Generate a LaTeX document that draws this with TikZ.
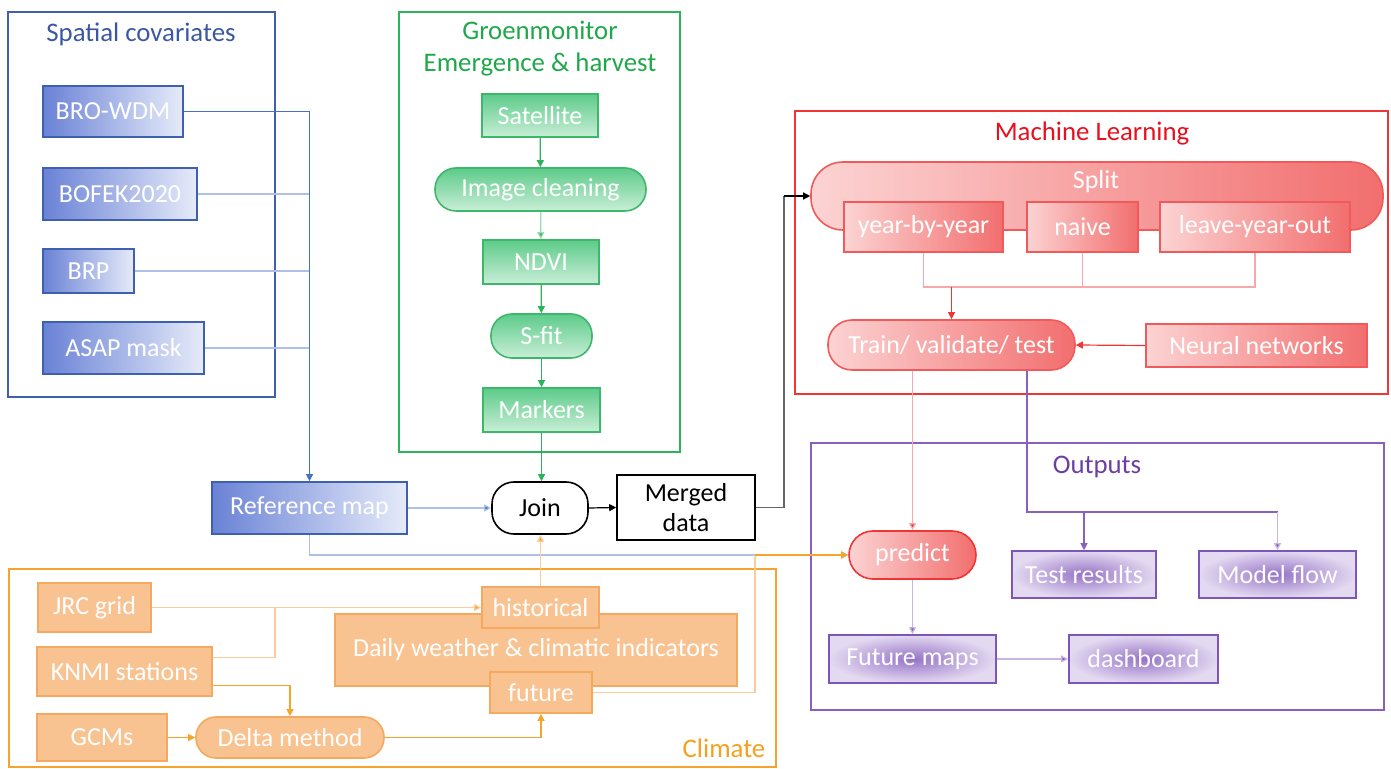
\documentclass[tikz,border=0pt]{standalone}
\usepackage{fontspec}
\setmainfont{Carlito}
\usetikzlibrary{arrows.meta,calc}
\definecolor{bdark}{HTML}{3F5FAF}
\definecolor{btitle}{HTML}{3A58A2}
\definecolor{bline}{HTML}{4472C4}
\definecolor{blight}{HTML}{AFC0E6}
\definecolor{bfillL}{HTML}{6A82D6}
\definecolor{bfillR}{HTML}{E6EBF9}
\definecolor{gframe}{HTML}{2DB35A}
\definecolor{gtitle}{HTML}{1FA84A}
\definecolor{gborder}{HTML}{3DB86A}
\definecolor{gtop}{HTML}{5DCB8A}
\definecolor{gbot}{HTML}{C9EED7}
\definecolor{rframe}{HTML}{F03535}
\definecolor{rtitle}{HTML}{E8101E}
\definecolor{rborder}{HTML}{F05A5A}
\definecolor{rL}{HTML}{FCD3D3}
\definecolor{rR}{HTML}{F26E6E}
\definecolor{rlight}{HTML}{F8A8A8}
\definecolor{oframe}{HTML}{F6A52C}
\definecolor{otitle}{HTML}{F5A01E}
\definecolor{oborder}{HTML}{F5A860}
\definecolor{ofill}{HTML}{F9C291}
\definecolor{olight}{HTML}{FBCB9A}
\definecolor{pframe}{HTML}{8A5FBE}
\definecolor{ptitle}{HTML}{6A3EA3}
\definecolor{pborder}{HTML}{7D57B7}
\definecolor{pin}{HTML}{9673C6}
\definecolor{pout}{HTML}{E3D9F1}
\definecolor{plight}{HTML}{C8B5E3}
\tikzset{
  every node/.style={font=\fontsize{13}{15}\selectfont, inner sep=0pt},
  frame/.style={draw, line width=0.8pt},
  ttl/.style={font=\fontsize{13.4}{16}\selectfont, align=center},
  bluebox/.style={draw=bdark, line width=0.8pt, left color=bfillL, right color=bfillR, text=white},
  greenbox/.style={draw=gborder, line width=0.8pt, top color=gtop, bottom color=gbot, text=white},
  redbox/.style={draw=rborder, line width=0.8pt, left color=rL, right color=rR, text=white},
  orangebox/.style={draw=oborder, line width=0.8pt, fill=ofill, text=white},
  purplebox/.style={draw=pborder, line width=0.8pt, inner color=pin, outer color=pout, text=white},
  tip/.style={-{Triangle[length=3.5pt,width=3.5pt]}},
  conn/.style={line width=0.6pt},
}
\newcommand\bx[7]{\node[#2, minimum width={(#5-#3)*0.5pt}, minimum height={(#6-#4)*0.5pt}] (#1) at ({(#3+#5)/2},{(#4+#6)/2}) {#7};}
\begin{document}
\begin{tikzpicture}[x=0.5pt,y=-0.5pt]
\useasboundingbox (0,0) rectangle (1391,769);
% frames
\draw[frame, bdark] (8,12) rectangle (275,397);
\node[ttl, text=btitle] (svt) at (141,34) {Spatial covariates};
\draw[frame, gframe] (399,12) rectangle (680,452);
\node[ttl, text=gtitle] (gmt) at (540,49) {Groenmonitor\\Emergence \& harvest};
\draw[frame, rframe] (795,111) rectangle (1388,394);
\node[ttl, text=rtitle] (mlt) at (1092,134) {Machine Learning};
\draw[frame, pframe] (811,443) rectangle (1384,710);
\node[ttl, text=ptitle] (opt) at (1097,467) {Outputs};
\draw[frame, oframe] (9,569) rectangle (776,767);
\node[ttl, text=otitle] (clt) at (724,748) {Climate};
% spatial covariates
\bx{browdm}{bluebox}{43}{86}{183}{137}{BRO-WDM}
\bx{bofek}{bluebox}{43}{168}{197}{220}{BOFEK2020}
\bx{brp}{bluebox}{43}{249}{134}{293}{BRP}
\bx{asap}{bluebox}{43}{322}{204}{374}{ASAP mask}
\bx{refmap}{bluebox}{212}{482}{407}{534}{Reference map}
% groenmonitor
\bx{sat}{greenbox}{482}{94}{598}{137}{Satellite}
\bx{imgc}{greenbox, rounded corners=10.5pt}{435}{168}{646}{211}{Image cleaning}
\bx{ndvi}{greenbox}{483}{240}{599}{284}{NDVI}
\bx{sfit}{greenbox, rounded corners=10.5pt}{491}{314}{592}{358}{S-fit}
\bx{markers}{greenbox}{483}{388}{600}{432}{Markers}
% join / merged
\bx{join}{draw=black, line width=0.8pt, fill=white, rounded corners=11pt, text=black}{492}{482}{588}{534}{Join}
\bx{merged}{draw=black, line width=0.8pt, fill=white, text=black, align=center}{617}{475}{755}{540}{Merged\\data}
% machine learning
\bx{split}{redbox, rounded corners=16pt}{811}{162}{1383}{230}{}
\node[text=white] (splitl) at (1096,182) {Split};
\bx{yby}{redbox}{844}{202}{1003}{252}{year-by-year}
\bx{naive}{redbox}{1027}{202}{1138}{252}{naive}
\bx{leave}{redbox}{1160}{202}{1350}{252}{leave-year-out}
\bx{train}{redbox, rounded corners=12pt}{828}{320}{1075}{370}{Train/ validate/ test}
\bx{neural}{redbox}{1146}{324}{1367}{367}{Neural networks}
% outputs
\bx{predict}{redbox, rounded corners=12pt, draw=rframe}{849}{531}{976}{579}{predict}
\bx{test}{purplebox}{1012}{551}{1156}{598}{Test results}
\bx{model}{purplebox}{1199}{551}{1356}{598}{Model flow}
\bx{fmaps}{purplebox}{829}{635}{996}{683}{Future maps}
\bx{dash}{purplebox}{1069}{635}{1218}{683}{dashboard}
% climate
\bx{daily}{orangebox}{335}{614}{737}{686}{Daily weather \& climatic indicators}
\bx{hist}{orangebox}{482}{587}{599}{628}{historical}
\bx{future}{orangebox}{490}{672}{592}{713}{future}
\bx{jrc}{orangebox}{38}{583}{151}{632}{JRC grid}
\bx{knmi}{orangebox}{37}{647}{212}{696}{KNMI stations}
\bx{gcms}{orangebox}{37}{714}{167}{761}{GCMs}
\bx{delta}{orangebox, rounded corners=10pt}{196}{717}{384}{758}{Delta method}
% helper coordinates
\coordinate (mx) at (784,0);
\coordinate (fx) at (755,0);
\coordinate (kj) at (275,0);
\coordinate (h) at (0,287);
\coordinate (tx) at (1027,0);
\coordinate (oh) at (0,512);
% connectors: spatial
\draw[conn, blight] (bofek.east) -- (bofek.east -| refmap.north);
\draw[conn, blight] (brp.east) -- (brp.east -| refmap.north);
\draw[conn, blight] (asap.east) -- (asap.east -| refmap.north);
\draw[conn, bline, tip] (browdm.east) -| (refmap.north);
\draw[conn, blight, -{Triangle[length=3.5pt,width=3.5pt,fill=bline]}] (refmap.east) -- (join.west);
\draw[conn, blight, -{Triangle[length=3.5pt,width=3.5pt,fill=oframe]}] (refmap.south) |- (predict.west);
% groenmonitor
\draw[conn, gframe, tip] (sat) -- (imgc);
\draw[conn, gbot!70!gframe, -{Triangle[length=3.5pt,width=3.5pt,fill=gframe]}] (imgc) -- (ndvi);
\draw[conn, gframe, tip] (ndvi) -- (sfit);
\draw[conn, gframe, tip] (sfit) -- (markers);
\draw[conn, gframe, tip] (markers.south) -- (markers.south |- join.north);
% join / merged
\draw[conn, black, tip] (join.east) -- (merged.west);
\draw[conn, gray!80!black] (merged.east) -| (mx |- split.west);
\draw[conn, black, tip] (mx |- split.west) -- (split.west);
% ML
\draw[conn, rlight] (yby.south) -- (yby.south |- h) -- (leave.south |- h) -- (leave.south);
\draw[conn, rlight] (naive.south) -- (naive.south |- h);
\draw[conn, rframe, tip] (train.north |- h) -- (train.north);
\draw[conn, rframe, tip] (neural.west) -- (train.east);
\draw[conn, rlight, -{Triangle[length=3.5pt,width=3.5pt,fill=rframe]}] (predict.north |- train.south) -- (predict.north);
\draw[conn, pframe] (train.south -| tx) |- (oh -| model.north);
\draw[conn, plight, -{Triangle[length=3.5pt,width=3.5pt,fill=pframe]}] (oh -| model.north) -- (model.north);
\draw[conn, pframe, tip] (oh -| test.north) -- (test.north);
\draw[conn, plight, -{Triangle[length=3.5pt,width=3.5pt,fill=pframe]}] (predict.south) -- (predict.south |- fmaps.north);
\draw[conn, plight, -{Triangle[length=3.5pt,width=3.5pt,fill=pframe]}] (fmaps.east) -- (dash.west);
% climate
\draw[conn, olight] (future.east) -| (predict.west -| fx);
\draw[conn, oframe, tip] (predict.west -| fx) -- (predict.west);
\draw[conn, olight, -{Triangle[length=3.5pt,width=3.5pt,fill=oframe]}] (hist.north) -- (hist.north |- join.south);
\draw[conn, olight, -{Triangle[length=3.5pt,width=3.5pt,fill=oframe]}] (jrc.east) -- (hist.west);
\draw[conn, olight] ([yshift=7pt]knmi.east) -| (jrc.east -| kj);
\draw[conn, oframe, tip] ([yshift=-7pt]knmi.east) -| (delta.north);
\draw[conn, oframe, tip] (gcms.east) -- (delta.west);
\draw[conn, oframe, tip] (delta.east) -| (future.south);
\end{tikzpicture}
\end{document}
